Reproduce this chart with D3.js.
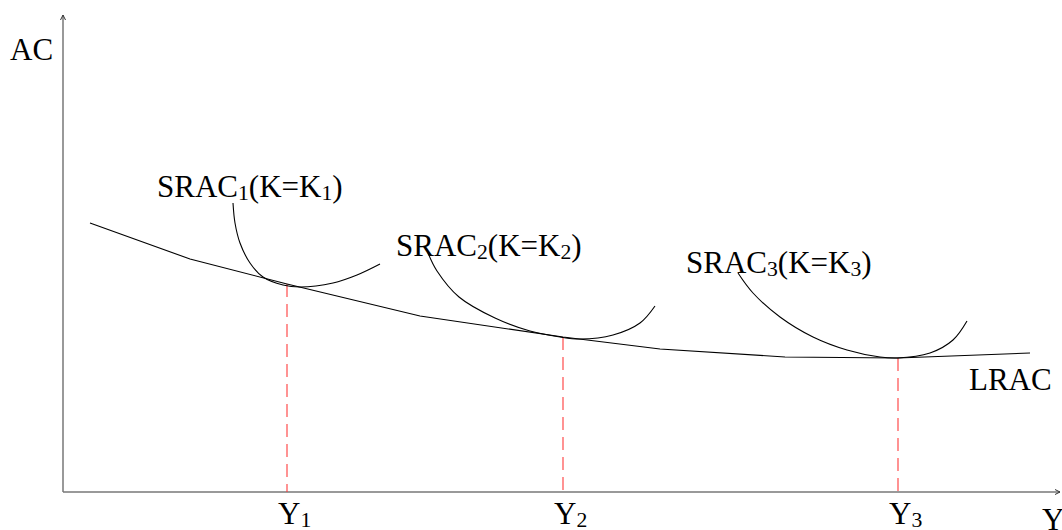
<!DOCTYPE html>
<html>
<head>
<meta charset="utf-8">
<script src="https://cdn.jsdelivr.net/npm/d3@7"></script>
<style>
  html, body { margin: 0; padding: 0; background: #fff; }
  svg { display: block; }
  text { font-family: "Liberation Serif", "Times New Roman", serif; fill: #000; }
</style>
</head>
<body>
<svg id="chart" width="1062" height="530"></svg>
<script>
// Long-run average cost envelope (output Y vs. average cost AC)
const lracY  = [2.7, 12.7, 22.4, 35.7, 50.0, 59.7, 72.2, 83.5, 96.7];
const lracAC = [53.8, 46.6, 41.6, 35.2, 31.0, 28.6, 27.0, 26.8, 27.8];

// Short-run average cost curves for three fixed capital levels
const srac1Y  = [17.0, 17.2, 17.7, 18.7, 20.0, 22.0, 23.7, 27.0, 29.4, 31.7];
const srac1AC = [57.8, 53.8, 49.8, 45.8, 43.0, 41.4, 41.0, 41.8, 43.4, 45.6];
const srac2Y  = [36.5, 37.4, 39.6, 43.2, 46.7, 49.7, 51.7, 55.0, 57.7, 59.2];
const srac2AC = [47.8, 44.2, 39.0, 34.8, 32.2, 31.0, 30.6, 31.4, 33.8, 37.2];
const srac3Y  = [67.5, 69.0, 71.7, 75.0, 78.4, 81.7, 83.4, 86.7, 89.0, 90.4];
const srac3AC = [43.8, 39.8, 35.0, 31.0, 28.4, 27.0, 26.8, 27.8, 30.4, 34.2];

// Tangency output levels and their average cost
const tanY  = [22.4, 50.0, 83.5];
const tanAC = [41.6, 31.0, 26.8];
const tanLabels = ["1", "2", "3"];

const sracNames = ["1", "2", "3"];

const svg = d3.select("#chart");
const x = d3.scaleLinear().domain([0, 100]).range([63, 1063]);
const y = d3.scaleLinear().domain([0, 96]).range([492, 12]);

// Axes
const axisColor = "#777";
svg.append("g")
  .attr("transform", `translate(0,${y(0)})`)
  .call(d3.axisBottom(x).tickValues([]).tickSizeOuter(0))
  .call(g => g.select(".domain").attr("stroke", axisColor).attr("stroke-width", 1.5)
    .attr("d", `M${x(0)},0H${x(99.7)}`));
svg.append("g")
  .attr("transform", `translate(${x(0)},0)`)
  .call(d3.axisLeft(y).tickValues([]).tickSizeOuter(0))
  .call(g => g.select(".domain").attr("stroke", axisColor).attr("stroke-width", 1.5)
    .attr("d", `M0,${y(0)}V${y(95.4)}`));

// Open arrowheads at the axis ends
svg.append("path")
  .attr("d", `M${x(0) - 2.5},${y(95.4) + 5}L${x(0)},${y(95.4)}L${x(0) + 2.5},${y(95.4) + 5}`)
  .attr("fill", "none").attr("stroke", "#333").attr("stroke-width", 1);
svg.append("path")
  .attr("d", `M${x(99.7) - 5},${y(0) - 2.5}L${x(99.7)},${y(0)}L${x(99.7) - 5},${y(0) + 2.5}`)
  .attr("fill", "none").attr("stroke", "#333").attr("stroke-width", 1);

// Dashed guides from tangency points down to the output axis
svg.selectAll("line.guide")
  .data(tanY.map((v, i) => ({ q: v, c: tanAC[i] })))
  .join("line")
  .attr("class", "guide")
  .attr("x1", d => x(d.q)).attr("x2", d => x(d.q))
  .attr("y1", d => y(d.c)).attr("y2", y(0))
  .attr("stroke", "#ff3b3b").attr("stroke-width", 1.1)
  .attr("stroke-dasharray", "13,7");

// LRAC
const lrac = lracY.map((v, i) => [v, lracAC[i]]);
svg.append("path")
  .datum(lrac)
  .attr("fill", "none").attr("stroke", "#000").attr("stroke-width", 1.1)
  .attr("d", d3.line().x(d => x(d[0])).y(d => y(d[1])));

// SRAC curves
const srac = [
  srac1Y.map((v, i) => [v, srac1AC[i]]),
  srac2Y.map((v, i) => [v, srac2AC[i]]),
  srac3Y.map((v, i) => [v, srac3AC[i]])
];
svg.selectAll("path.srac")
  .data(srac)
  .join("path")
  .attr("class", "srac")
  .attr("fill", "none").attr("stroke", "#000").attr("stroke-width", 1.1)
  .attr("d", d3.line().curve(d3.curveCatmullRom.alpha(0.5)).x(d => x(d[0])).y(d => y(d[1])));

// Text helper: main text with lowered, smaller subscripts
function subText(sel, parts, px, py, size) {
  const t = sel.append("text").attr("x", px).attr("y", py).attr("font-size", size);
  parts.forEach(p => {
    if (p.sub) {
      t.append("tspan").attr("font-size", size * 0.7).attr("dy", 3).text(p.t);
    } else {
      t.append("tspan").attr("dy", p.after ? -3 : 0).text(p.t);
    }
  });
  return t;
}

const fs = 31;

// Axis titles
svg.append("text").attr("x", 10).attr("y", 59.5).attr("font-size", fs).text("AC");
svg.append("text").attr("x", 1042).attr("y", 530).attr("font-size", fs).text("Y");

// SRAC labels
const sracLabelPos = [[157, 197], [396, 256], [686, 272.5]];
sracNames.forEach((n, i) => {
  subText(svg, [
    { t: "SRAC" }, { t: n, sub: true },
    { t: "(K=K", after: true }, { t: n, sub: true },
    { t: ")", after: true }
  ], sracLabelPos[i][0], sracLabelPos[i][1], fs);
});

svg.append("text").attr("x", 969).attr("y", 389.5).attr("font-size", fs).text("LRAC");

// Output level labels under the axis
tanY.forEach((v, i) => {
  subText(svg, [{ t: "Y" }, { t: tanLabels[i], sub: true }], x(v) - 9, 524, fs);
});
</script>
</body>
</html>
